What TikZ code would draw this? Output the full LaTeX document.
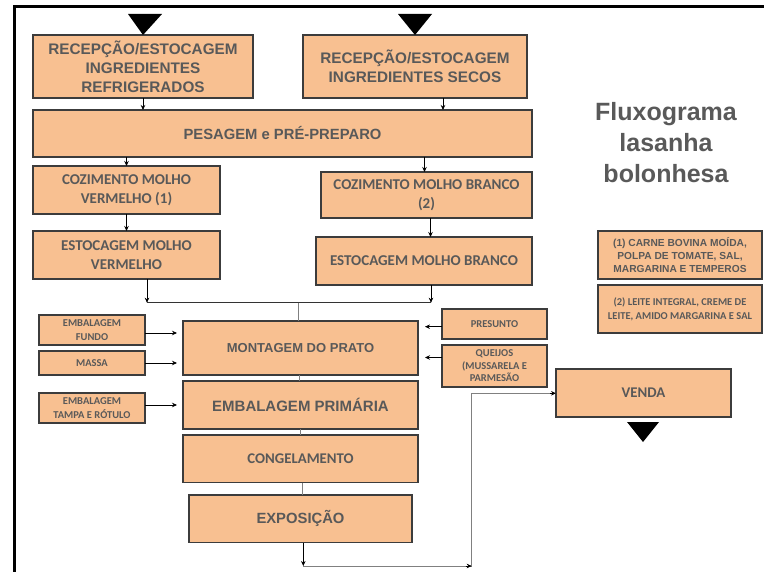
\documentclass[tikz,border=0pt]{standalone}
\usepackage{fontspec}
\setmainfont{Liberation Sans}
\newfontfamily\calib{Carlito}
\usetikzlibrary{arrows.meta}

\definecolor{peach}{HTML}{F8C091}
\definecolor{edge}{HTML}{3C3C3C}
\definecolor{txt}{HTML}{595959}
\definecolor{link}{HTML}{808080}

\tikzset{
  box/.style={draw=edge, fill=peach, line width=1.1pt, inner sep=0pt, outer sep=0pt,
              align=center, text=txt, font=\bfseries},
  ar/.style={font=\fontsize{15.3}{19}\selectfont\bfseries},
  ca/.style={font=\calib\fontsize{15}{19}\selectfont\bfseries},
  sm/.style={font=\calib\fontsize{10.5}{13.5}\selectfont\bfseries},
  arr/.style={draw=black, line width=0.7pt, -{Stealth[length=5pt,width=4.5pt]}},
  lnk/.style={draw=link, line width=1pt},
  tri/.style={fill=black, draw=none}
}

\begin{document}
\begin{tikzpicture}[x=1pt,y=-1pt]
\useasboundingbox (0,0) rectangle (764,572);

% frame
\draw[line width=3pt] (764,7) -- (14,7) -- (14,572);

% reception boxes
\node[box,ar,minimum width=220pt,minimum height=63pt] (recA) at (143,66.5)
  {RECEPÇÃO/ESTOCAGEM\\INGREDIENTES\\REFRIGERADOS};
\node[box,ar,minimum width=224pt,minimum height=63pt] (recB) at (415,66.5)
  {RECEPÇÃO/ESTOCAGEM\\INGREDIENTES SECOS};
\fill[tri] (128,14) -- (162,14) -- (recA.north) -- cycle;
\fill[tri] (398,14) -- (432,14) -- (recB.north) -- cycle;

\node[box,font=\fontsize{14.8}{19}\selectfont\bfseries,minimum width=499pt,minimum height=47pt] (pes) at (282.5,133.5)
  {PESAGEM e PRÉ-PREPARO};

% sauces
\node[box,ca,minimum width=187pt,minimum height=48pt] (cozV) at (126.5,190)
  {COZIMENTO MOLHO\\VERMELHO (1)};
\node[box,ca,minimum width=211pt,minimum height=46pt] (cozB) at (426.5,195)
  {COZIMENTO MOLHO BRANCO\\(2)};
\node[box,ca,minimum width=187pt,minimum height=48pt] (estV) at (126.5,255)
  {ESTOCAGEM MOLHO\\VERMELHO};
\node[box,ca,minimum width=216pt,minimum height=48pt] (estB) at (424,261)
  {ESTOCAGEM MOLHO BRANCO};

% assembly line
\node[box,font=\fontsize{13}{16}\selectfont\bfseries,minimum width=235pt,minimum height=54pt] (mont) at (300.5,348)
  {MONTAGEM DO PRATO};
\node[box,font=\fontsize{15}{18}\selectfont\bfseries,minimum width=235pt,minimum height=48pt] (embp) at (300.5,405)
  {EMBALAGEM PRIMÁRIA};
\node[box,font=\calib\fontsize{14.8}{18}\selectfont\bfseries,minimum width=235pt,minimum height=47.7pt] (cong) at (300.5,458.85)
  {CONGELAMENTO};
\node[box,font=\fontsize{14.8}{18}\selectfont\bfseries,minimum width=223pt,minimum height=47.7pt] (expo) at (300.5,518.85)
  {EXPOSIÇÃO};

% side inputs
\node[box,sm,minimum width=106pt,minimum height=30pt] (fundo) at (92,330) {EMBALAGEM\\FUNDO};
\node[box,sm,minimum width=106pt,minimum height=24pt] (massa) at (92,363) {MASSA};
\node[box,sm,minimum width=106pt,minimum height=30pt] (tampa) at (92,408) {EMBALAGEM\\TAMPA E RÓTULO};
\node[box,sm,minimum width=105pt,minimum height=30pt] (pres) at (494.5,324) {PRESUNTO};
\node[box,font=\calib\fontsize{10.5}{12.5}\selectfont\bfseries,minimum width=105pt,minimum height=42pt] (quei) at (494.5,366)
  {QUEIJOS\\(MUSSARELA E\\PARMESÃO};

% sale
\node[box,font=\calib\fontsize{14.8}{18}\selectfont\bfseries,minimum width=175pt,minimum height=48pt] (venda) at (643.5,393) {VENDA};
\fill[tri] (627,422) -- (659,422) -- (643,442) -- cycle;

% title and notes
\node[text=txt,align=center,font=\fontsize{25}{31}\selectfont\bfseries] (title) at (666,143)
  {Fluxograma\\lasanha\\bolonhesa};
\node[box,font=\fontsize{10.2}{13}\selectfont\bfseries,minimum width=164pt,minimum height=48pt] (nota1) at (680,255)
  {(1) CARNE BOVINA MOÍDA,\\POLPA DE TOMATE, SAL,\\MARGARINA E TEMPEROS};
\node[box,font=\calib\fontsize{10.5}{14}\selectfont\bfseries,minimum width=164pt,minimum height=48pt] (nota2) at (680,309)
  {(2) LEITE INTEGRAL, CREME DE\\LEITE, AMIDO MARGARINA E SAL};

% connectors: top part
\draw[arr] (recA.south) -- (recA.south |- pes.north);
\draw[arr] ([xshift=28pt]recB.south) -- ([xshift=28pt]recB.south |- pes.north);
\draw[arr] (cozV.north |- pes.south) -- (cozV.north);
\draw[arr] ([xshift=-2pt]cozB.north |- pes.south) -- ([xshift=-2pt]cozB.north);
\draw[arr] (cozV.south) -- (estV.north);
\draw[arr] ([xshift=4pt]cozB.south) -- ([xshift=4pt]cozB.south |- estB.north);

% sauces meet above the assembly
\coordinate (jl) at (147,302.7);
\coordinate (jr) at (431,302.7);
\coordinate (jc) at (298.5,302.7);
\draw[arr] (estV.south -| jl) -- (jl);
\draw[arr] (estB.south -| jr) -- (jr);
\draw[line width=0.8pt, draw=black!80] (jl) -- (jr);
\draw[lnk] (jc) -- (jc |- mont.north);

% side inputs into the assembly
\draw[arr, shorten >=6pt] ([yshift=-3pt]fundo.east) -- ([yshift=-3pt]fundo.east -| mont.west);
\draw[arr, shorten >=6pt] (massa.east) -- (massa.east -| mont.west);
\draw[arr, shorten >=6pt] ([yshift=3pt]tampa.east) -- ([yshift=3pt]tampa.east -| embp.west);
\draw[arr, shorten >=7pt] ([yshift=-2.7pt]pres.west) -- ([yshift=-2.7pt]pres.west -| mont.east);
\draw[arr, shorten >=7pt] ([yshift=8.5pt]quei.west) -- ([yshift=8.5pt]quei.west -| mont.east);

% vertical chain
\coordinate (c1) at (299.3,0);
\coordinate (c2) at (300.7,0);
\coordinate (c3) at (302,0);
\draw[lnk] (mont.south -| c1) -- (embp.north -| c1);
\draw[lnk] (embp.south -| c2) -- (cong.north -| c2);
\draw[lnk] (cong.south -| c3) -- (expo.north -| c3);

% out to the sale
\coordinate (bl) at (303.3,566);
\coordinate (br) at (471.7,566);
\coordinate (up) at (471.7,393.3);
\draw[arr] (expo.south -| bl) -- (bl);
\draw[lnk] (bl) -- (br);
\draw[arr] ([xshift=-6pt]br) -- (br);
\draw[lnk] (br) -- (up) -- (up -| venda.west);
\draw[arr] ([xshift=-6pt]up -| venda.west) -- (up -| venda.west);
\end{tikzpicture}
\end{document}
